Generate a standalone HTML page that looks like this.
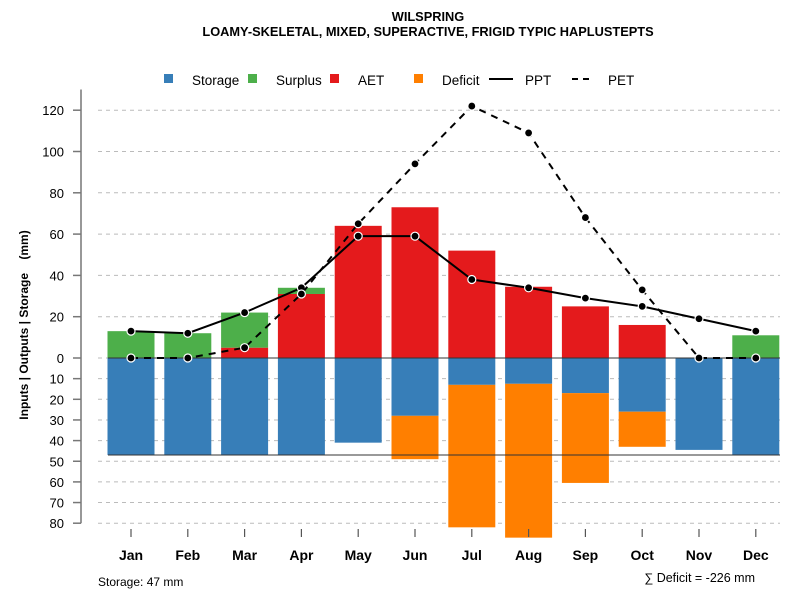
<!DOCTYPE html>
<html><head><meta charset="utf-8"><style>
body{margin:0;background:#fff;font-family:"Liberation Sans",sans-serif}
svg text{font-family:"Liberation Sans",sans-serif}
</style></head><body>
<svg id="c" width="800" height="600" xmlns="http://www.w3.org/2000/svg">
<text x="428" y="21" text-anchor="middle" font-size="12.8" font-weight="bold">WILSPRING</text>
<text x="428" y="36" text-anchor="middle" font-size="12.8" font-weight="bold">LOAMY-SKELETAL, MIXED, SUPERACTIVE, FRIGID TYPIC HAPLUSTEPTS</text>
<g id="legend">
<rect x="164" y="74" width="9" height="9" fill="#377eb8"/>
<text x="192" y="85" font-size="13.5">Storage</text>
<rect x="248" y="74" width="9" height="9" fill="#4daf4a"/>
<text x="276" y="85" font-size="13.5">Surplus</text>
<rect x="330" y="74" width="9" height="9" fill="#e41a1c"/>
<text x="358" y="85" font-size="13.5">AET</text>
<rect x="414" y="74" width="9" height="9" fill="#ff7f00"/>
<text x="442" y="85" font-size="13.5">Deficit</text>
<line x1="489" y1="79" x2="513" y2="79" stroke="#000" stroke-width="2"/>
<text x="525" y="85" font-size="13.5">PPT</text>
<line x1="572" y1="79" x2="593" y2="79" stroke="#000" stroke-width="2" stroke-dasharray="6,5"/>
<text x="608" y="85" font-size="13.5">PET</text>
</g>
<text transform="translate(28,325) rotate(-90)" text-anchor="middle" font-size="12" font-weight="bold" xml:space="preserve">Inputs | Outputs | Storage    (mm)</text>
<g id="grid"></g><g id="bars"></g><g id="lines"></g><g id="axes"></g>
<text x="98" y="586" font-size="12">Storage: 47 mm</text>
<text x="755" y="582" text-anchor="end" font-size="12.5">∑ Deficit = -226 mm</text>
</svg>
<script>
const months=["Jan","Feb","Mar","Apr","May","Jun","Jul","Aug","Sep","Oct","Nov","Dec"];
const storage=[47,47,47,47,41,28,13,12.5,17,26,44.5,47];
const deficit=[0,0,0,0,0,21,69,74.5,43.5,17,0,0];
const aet=[0,0,5,31,64,73,52,34.5,25,16,0,0];
const surplus=[13,12,17,3,0,0,0,0,0,0,0,11];
const ppt=[13,12,22,34,59,59,38,34,29,25,19,13];
const pet=[0,0,5,31,65,94,122,109,68,33,0,0];
const posTicks=[0,20,40,60,80,100,120];
const negTicks=[10,20,30,40,50,60,70,80];
const maxStorage=47;
const NS="http://www.w3.org/2000/svg";
const y=v=>358-v*2.065;
const x=i=>131+i*56.8;
const bw=47;
function mk(p,t,a){const e=document.createElementNS(NS,t);for(const k in a)e.setAttribute(k,a[k]);document.getElementById(p).appendChild(e);return e;}
posTicks.concat(negTicks.map(v=>-v)).forEach(v=>{
 const g=mk('grid','line',{x1:98,x2:780,y1:y(v),y2:y(v),stroke:'#bbb','stroke-dasharray':'4,4'});
 
 
 const t=mk('axes','line',{x1:73,x2:81,y1:y(v),y2:y(v),stroke:'#777','stroke-width':1.5});
 
 
 const l=mk('axes','text',{x:64,y:y(v)+5,'text-anchor':'end','font-size':13});
 l.textContent=Math.abs(v);
 
 
});
const ax=mk('axes','line',{x1:81,x2:81,y1:y(130),y2:y(-80),stroke:'#777','stroke-width':1.5});


months.forEach((m,i)=>{
 const cx=x(i),l=cx-bw/2;
 const r=(v0,v1,c,n)=>{if(v1===v0)return;const e=mk('bars','rect',{x:l,y:y(Math.max(v0,v1)),width:bw,height:Math.abs(v1-v0)*2.065,fill:c});
  
  };
 r(0,-storage[i],'#377eb8','storage');
 r(-storage[i],-storage[i]-deficit[i],'#ff7f00','deficit');
 r(0,aet[i],'#e41a1c','aet');
 r(aet[i],aet[i]+surplus[i],'#4daf4a','surplus');
 const t=mk('axes','line',{x1:cx,x2:cx,y1:529,y2:537,stroke:'#555','stroke-width':1.2});
 
 
 const lb=mk('axes','text',{x:cx,y:560,'text-anchor':'middle','font-size':14,'font-weight':'bold'});
 lb.textContent=m;
 
 
});
const zl=mk('lines','line',{x1:108,x2:780,y1:y(0),y2:y(0),stroke:'#333','stroke-width':1});


const sl=mk('lines','line',{x1:108,x2:780,y1:y(-maxStorage),y2:y(-maxStorage),stroke:'#333','stroke-width':1});


[[ppt,'ppt',''],[pet,'pet','7,6']].forEach(([d,n,da])=>{
 const p=mk('lines','polyline',{points:d.map((v,i)=>x(i)+','+y(v)).join(' '),fill:'none',stroke:'#000','stroke-width':2,'stroke-dasharray':da});
 
 
 d.forEach((v,i)=>{const c=mk('lines','circle',{cx:x(i),cy:y(v),r:4,fill:'#000',stroke:'#fff','stroke-width':1.2});
  
  });
});
</script>
</body></html>
